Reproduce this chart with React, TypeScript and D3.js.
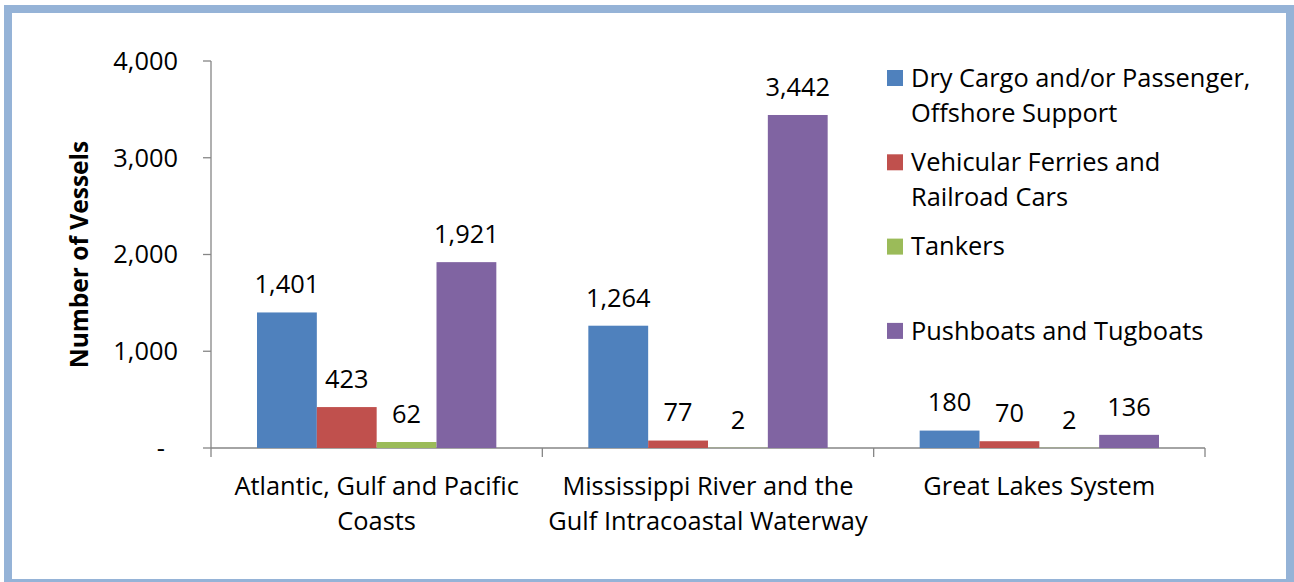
import React from "react";
import * as d3 from "d3";

const categories = [
  ["Atlantic, Gulf and Pacific", "Coasts"],
  ["Mississippi River and the", "Gulf Intracoastal Waterway"],
  ["Great Lakes System"],
];
const seriesNames = [
  ["Dry Cargo and/or Passenger,", "Offshore Support"],
  ["Vehicular Ferries and", "Railroad Cars"],
  ["Tankers"],
  ["Pushboats and Tugboats"],
];
const dryCargo = [1401, 1264, 180];
const ferries = [423, 77, 70];
const tankers = [62, 2, 2];
const pushboats = [1921, 3442, 136];
const yTicks = [0, 1000, 2000, 3000, 4000];
const colors = ["#4F81BD", "#C0504D", "#9BBB59", "#8064A2"];

const W = 1294;
const H = 582;
const FONT = "'Open Sans', sans-serif";
const FS = 25.4;

export default function App() {
  const series = [dryCargo, ferries, tankers, pushboats];
  const catKeys = categories.map((c) => c.join(" "));
  const x0 = d3.scaleBand<string>().domain(catKeys).range([211, 1205]).padding(0);
  const bw = x0.bandwidth();
  const x1 = d3
    .scaleBand<number>()
    .domain(series.map((_, i) => i))
    .range([46, bw - 46])
    .padding(0);
  const y = d3.scaleLinear().domain([0, 4000]).range([448, 61]);
  const fmt = d3.format(",");
  const axisColor = "#868686";

  return (
    <svg
      width={W}
      height={H}
      style={{ position: "absolute", left: 0, top: 0, background: "#fff" }}
      fontFamily={FONT}
    >
      <rect x={8} y={9} width={1282} height={574} fill="#fff" stroke="#95B3D7" strokeWidth={8} />

      {/* y axis */}
      <line x1={211} x2={211} y1={y(4000)} y2={y(0)} stroke={axisColor} strokeWidth={1.3} />
      {yTicks.map((t) => (
        <g key={t}>
          <line x1={203} x2={211} y1={y(t)} y2={y(t)} stroke={axisColor} strokeWidth={1.3} />
          <text
            x={t === 0 ? 165 : 178}
            y={y(t)}
            dy="0.35em"
            textAnchor="end"
            fontSize={FS}
            fill="#000"
          >
            {t === 0 ? "-" : fmt(t)}
          </text>
        </g>
      ))}
      <text
        transform={`translate(88,${(y(0) + y(4000)) / 2}) rotate(-90)`}
        textAnchor="middle"
        fontSize={24.5}
        fontWeight="bold"
        fill="#000"
      >
        Number of Vessels
      </text>

      {/* x axis */}
      <line x1={211} x2={1205} y1={y(0)} y2={y(0)} stroke={axisColor} strokeWidth={1.3} />
      {[...catKeys.map((k) => x0(k) as number), 1205].map((xv, i) => (
        <line key={i} x1={xv} x2={xv} y1={y(0)} y2={y(0) + 9} stroke={axisColor} strokeWidth={1.3} />
      ))}
      {categories.map((lines, ci) => (
        <text
          key={ci}
          x={(x0(catKeys[ci]) as number) + bw / 2}
          y={486}
          textAnchor="middle"
          fontSize={FS}
          fill="#000"
        >
          {lines.map((l, li) => (
            <tspan key={li} x={(x0(catKeys[ci]) as number) + bw / 2} y={486 + li * 35} dy="0.35em">
              {l}
            </tspan>
          ))}
        </text>
      ))}

      {/* bars */}
      {series.map((vals, si) =>
        vals.map((v, ci) => {
          const bx = (x0(catKeys[ci]) as number) + (x1(si) as number);
          return (
            <g key={`${si}-${ci}`}>
              <rect
                x={bx}
                y={y(v)}
                width={x1.bandwidth()}
                height={y(0) - y(v)}
                fill={colors[si]}
              />
              <text
                x={bx + x1.bandwidth() / 2}
                y={y(v) - 28}
                dy="0.35em"
                textAnchor="middle"
                fontSize={FS}
                fill="#000"
              >
                {fmt(v)}
              </text>
            </g>
          );
        })
      )}

      {/* legend */}
      {seriesNames.map((lines, si) => {
        const cy = 78 + si * 84.3;
        return (
          <g key={si}>
            <rect x={887} y={cy - 8} width={16} height={16} fill={colors[si]} />
            {lines.map((l, li) => (
              <text key={li} x={911} y={cy + li * 35} dy="0.35em" fontSize={FS} fill="#000">
                {l}
              </text>
            ))}
          </g>
        );
      })}
    </svg>
  );
}
